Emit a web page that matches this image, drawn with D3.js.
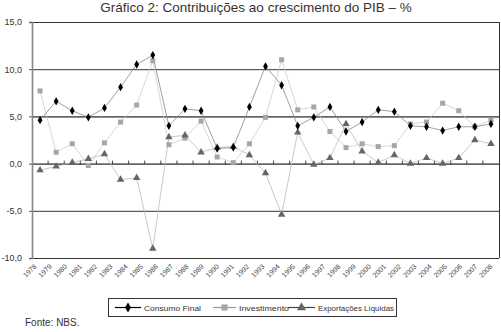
<!DOCTYPE html>
<html lang="pt">
<head>
<meta charset="UTF-8">
<title>Contribuições ao crescimento do PIB</title>
<style>
  body { margin:0; background:#fff; overflow:hidden; }
  svg { display:block; font-family:"Liberation Sans", Arial, sans-serif; }
</style>
</head>
<body>
<svg id="chart" width="501" height="332"></svg>
<script src="https://d3js.org/d3.v7.min.js"></script>
<script>
// data years (one point per year) and the axis labels as printed in the source
const years = d3.range(1978, 2007);
const tickLabels = d3.range(1978, 2009).map(String);
const consumo = [4.6, 6.6, 5.6, 4.9, 5.9, 8.1, 10.5, 11.5, 4.0, 5.8, 5.6, 1.6, 1.7, 6.0, 10.3,
                 8.3, 4.0, 4.9, 6.0, 3.4, 4.4, 5.7, 5.5, 4.0, 3.9, 3.5, 3.9, 3.9, 4.2];
const investimento = [7.7, 1.2, 2.1, -0.2, 2.2, 4.4, 6.2, 10.9, 2.0, 2.7, 4.5, 0.7, 0.1, 2.1, 4.9,
                      11.0, 5.7, 6.0, 3.4, 1.7, 2.1, 1.8, 1.9, 4.2, 4.4, 6.4, 5.6, 3.9, 4.6];
const exportacoes = [-0.7, -0.3, 0.1, 0.5, 1.0, -1.7, -1.5, -9.0, 2.8, 3.0, 1.2, 1.7, 1.8, 0.9, -1.0,
                     -5.4, 3.3, -0.1, 0.6, 4.2, 1.3, 0.1, 0.9, 0.0, 0.6, 0.0, 0.6, 2.5, 2.1];
const yTicks = [-10, -5, 0, 5, 10, 15];

const svg = d3.select('#chart');
const mLeft = 32, mRight = 499, mTop = 22, mBottom = 258;

const x = d3.scaleBand().domain(years).range([mLeft, mRight]);
const xl = d3.scalePoint().domain(tickLabels).range([37, 493]);
const y = d3.scaleLinear().domain([-10, 15]).range([mBottom, mTop]);
const cx = d => x(d) + x.bandwidth() / 2;

const pt = d3.formatLocale({decimal: ",", thousands: ".", grouping: [3], currency: ["", ""], minus: "-"});
const fmt = pt.format(".1f");

// title
svg.append('text').attr('x', 256).attr('y', 12).attr('text-anchor', 'middle')
  .style('font-size', '13.5px').attr('fill', '#333')
  .text('Gráfico 2: Contribuições ao crescimento do PIB – %');

// gridlines + frame
svg.append('g').selectAll('line').data(yTicks).join('line')
  .attr('x1', mLeft).attr('x2', mRight)
  .attr('y1', d => y(d) + 0.5).attr('y2', d => y(d) + 0.5)
  .attr('stroke', d => (d === 0 || d === 5) ? '#666' : '#333')
  .attr('stroke-width', d => (d === 0 || d === 5) ? 1.6 : 1);
svg.append('line').attr('x1', mRight + 0.5).attr('x2', mRight + 0.5).attr('y1', mTop).attr('y2', mBottom)
  .attr('stroke', '#333');

// y axis
const yAxis = svg.append('g').attr('transform', `translate(${mLeft},0)`)
  .call(d3.axisLeft(y).tickValues(yTicks).tickFormat(fmt).tickSize(3).tickPadding(7));
yAxis.select('.domain').attr('stroke', '#888').attr('stroke-width', 1.6);
yAxis.selectAll('.tick line').attr('stroke', '#555');
yAxis.selectAll('text').style('font-size', '9px').attr('fill', '#333')
  .style('font-family', '"Liberation Sans", Arial, sans-serif');

// category ticks on the zero line
svg.append('g').selectAll('line').data(years.slice(1)).join('line')
  .attr('x1', d => x(d)).attr('x2', d => x(d))
  .attr('y1', y(0) - 3).attr('y2', y(0) + 1)
  .attr('stroke', '#444').attr('stroke-width', 1);

// x labels
svg.append('g').selectAll('text').data(tickLabels).join('text')
  .attr('transform', d => `translate(${xl(d)},267) rotate(-45)`)
  .attr('text-anchor', 'end').style('font-size', '7px').attr('fill', '#444')
  .text(d => d);

// series
const series = [
  {name: 'Consumo Final', values: consumo, line: '#888', marker: 'diamond', fill: '#000', size: 20, lw: 0.8, legendLine: '#000'},
  {name: 'Investimento', values: investimento, line: '#ccc', marker: 'square', fill: '#a6a6a6', size: 25, lw: 0.8, legendLine: '#999'},
  {name: 'Exportações Líquidas', values: exportacoes, line: '#bbb', marker: 'triangle', fill: '#666', size: 24, lw: 0.8, legendLine: '#444'}
];
const sym = {diamond: d3.symbolDiamond, square: d3.symbolSquare, triangle: d3.symbolTriangle};
const line = d3.line().x((v, i) => cx(years[i])).y(v => y(v));

[series[1], series[2], series[0]].forEach(s => {
  svg.append('path').datum(s.values).attr('d', line)
    .attr('fill', 'none').attr('stroke', s.line).attr('stroke-width', s.lw);
});
[series[1], series[2], series[0]].forEach(s => {
  svg.append('g').selectAll('path').data(s.values).join('path')
    .attr('transform', (v, i) => `translate(${cx(years[i])},${y(v)})`)
    .attr('d', d3.symbol().type(sym[s.marker]).size(s.size))
    .attr('fill', s.fill);
});

// legend
const lg = svg.append('g');
lg.append('rect').attr('x', 108.5).attr('y', 298.5).attr('width', 288).attr('height', 18)
  .attr('fill', '#fff').attr('stroke', '#333');
const lx = [115, 213, 288], lw = [26, 23, 27], tw = [57, 50, 76];
series.forEach((s, i) => {
  lg.append('line').attr('x1', lx[i]).attr('x2', lx[i] + lw[i]).attr('y1', 307.5).attr('y2', 307.5)
    .attr('stroke', s.legendLine).attr('stroke-width', 1.2);
  lg.append('path').attr('transform', `translate(${lx[i] + lw[i] / 2},307.5)`)
    .attr('d', d3.symbol().type(sym[s.marker]).size(s.size * 1.5)).attr('fill', s.fill);
  lg.append('text').attr('x', lx[i] + lw[i] + 3).attr('y', 310.5)
    .attr('textLength', tw[i]).attr('lengthAdjust', 'spacingAndGlyphs')
    .style('font-size', '8px').attr('fill', '#333').text(s.name);
});

// source
svg.append('text').attr('x', 25).attr('y', 326).style('font-size', '10px').attr('fill', '#333')
  .text('Fonte: NBS.');
</script>
</body>
</html>
